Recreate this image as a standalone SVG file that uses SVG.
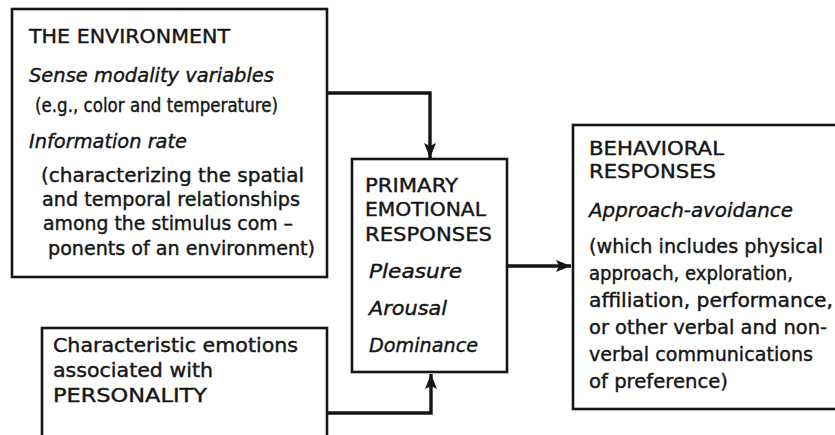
<svg xmlns="http://www.w3.org/2000/svg" width="835" height="435" viewBox="0 0 835 435">
<defs>
<style>
.box{fill:#fff;stroke:#151515;stroke-width:2.6}
.conn{fill:none;stroke:#151515;stroke-width:3.4}
text{font-family:"DejaVu Sans","Liberation Sans",sans-serif;font-size:19px;fill:#151515;stroke:#151515;stroke-width:0.4}
.it{font-style:italic}
</style>
<marker id="ah" markerUnits="userSpaceOnUse" markerWidth="16" markerHeight="14" refX="15" refY="7" orient="auto">
<path d="M0,1 L15,7 L0,13 L3,7 Z" fill="#151515"/>
</marker>
</defs>
<rect width="835" height="435" fill="#fff"/>
<g id="connectors">
<path class="conn" d="M327,93 H430 V158" marker-end="url(#ah)"/>
<path class="conn" d="M327,413 H431 V374" marker-end="url(#ah)"/>
<path class="conn" d="M507,266 H571" marker-end="url(#ah)"/>
</g>
<g id="environment">
<rect class="box" x="12" y="9" width="315" height="268"/>
<text x="29" y="43" textLength="201" lengthAdjust="spacingAndGlyphs">THE ENVIRONMENT</text>
<text class="it" x="29" y="82" textLength="245" lengthAdjust="spacingAndGlyphs">Sense modality variables</text>
<text x="35" y="112" textLength="243" lengthAdjust="spacingAndGlyphs">(e.g., color and temperature)</text>
<text class="it" x="29" y="148" textLength="158" lengthAdjust="spacingAndGlyphs">Information rate</text>
<text x="41" y="182" textLength="263" lengthAdjust="spacingAndGlyphs">(characterizing the spatial</text>
<text x="42" y="206" textLength="258" lengthAdjust="spacingAndGlyphs">and temporal relationships</text>
<text x="43" y="230" textLength="250" lengthAdjust="spacingAndGlyphs">among the stimulus com –</text>
<text x="48" y="255" textLength="267" lengthAdjust="spacingAndGlyphs">ponents of an environment)</text>
</g>
<g id="personality">
<rect class="box" x="42" y="328" width="285" height="120"/>
<text x="53" y="352" textLength="245" lengthAdjust="spacingAndGlyphs">Characteristic emotions</text>
<text x="53" y="377" textLength="160" lengthAdjust="spacingAndGlyphs">associated with</text>
<text x="53" y="402" textLength="154" lengthAdjust="spacingAndGlyphs">PERSONALITY</text>
</g>
<g id="primary">
<rect class="box" x="352" y="159" width="155" height="213"/>
<text x="365" y="192" textLength="93" lengthAdjust="spacingAndGlyphs">PRIMARY</text>
<text x="365" y="216" textLength="121" lengthAdjust="spacingAndGlyphs">EMOTIONAL</text>
<text x="365" y="241" textLength="127" lengthAdjust="spacingAndGlyphs">RESPONSES</text>
<text class="it" x="369" y="278" textLength="93" lengthAdjust="spacingAndGlyphs">Pleasure</text>
<text class="it" x="369" y="315" textLength="78" lengthAdjust="spacingAndGlyphs">Arousal</text>
<text class="it" x="369" y="352" textLength="109" lengthAdjust="spacingAndGlyphs">Dominance</text>
</g>
<g id="behavioral">
<rect class="box" x="573" y="125" width="275" height="284"/>
<text x="589" y="155" textLength="135" lengthAdjust="spacingAndGlyphs">BEHAVIORAL</text>
<text x="589" y="178" textLength="127" lengthAdjust="spacingAndGlyphs">RESPONSES</text>
<text class="it" x="589" y="217" textLength="204" lengthAdjust="spacingAndGlyphs">Approach-avoidance</text>
<text x="589" y="253" textLength="234" lengthAdjust="spacingAndGlyphs">(which includes physical</text>
<text x="589" y="280" textLength="204" lengthAdjust="spacingAndGlyphs">approach, exploration,</text>
<text x="589" y="307" textLength="244" lengthAdjust="spacingAndGlyphs">affiliation, performance,</text>
<text x="589" y="334" textLength="238" lengthAdjust="spacingAndGlyphs">or other verbal and non-</text>
<text x="589" y="361" textLength="224" lengthAdjust="spacingAndGlyphs">verbal communications</text>
<text x="589" y="388" textLength="139" lengthAdjust="spacingAndGlyphs">of preference)</text>
</g>
</svg>
